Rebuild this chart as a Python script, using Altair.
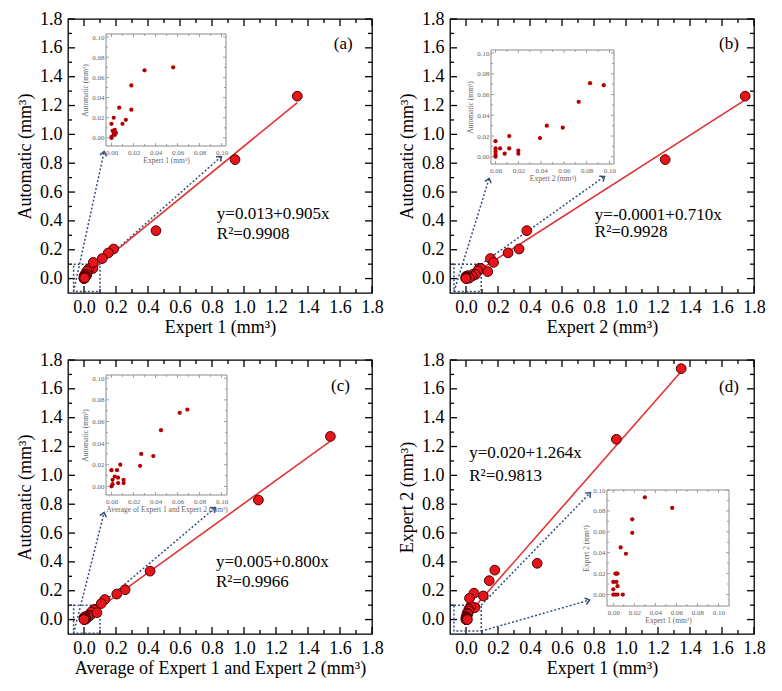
import math
import altair as alt
import pandas as pd

SERIF = "Liberation Serif"
W, H = 304, 274
DOM = [-0.1, 1.8]
RED = "#e8141c"
DARK = "#4a0000"
LINE = "#e03434"
BLUE = "#34507a"
INDOT = "#b40000"
GRAY = "#666666"

major_ticks = [0.0, 0.2, 0.4, 0.6, 0.8, 1.0, 1.2, 1.4, 1.6, 1.8]
minor_ticks = [0.1, 0.3, 0.5, 0.7, 0.9, 1.1, 1.3, 1.5, 1.7]
inset_major = [0.0, 0.02, 0.04, 0.06, 0.08, 0.10]
inset_minor = [0.01, 0.03, 0.05, 0.07, 0.09]

# ---------------- panel (a): Expert 1 vs Automatic ----------------
a_main_x = [1.333, 0.944, 0.450, 0.185, 0.152, 0.114, 0.058]
a_main_y = [1.265, 0.825, 0.332, 0.205, 0.178, 0.139, 0.112]
a_in_x = [0.056, 0.030, 0.018, 0.007, 0.018, 0.013, 0.010, 0.002, 0.000, 0.003, 0.001, 0.002, 0.003, 0.000, 0.000, 0.004]
a_in_y = [0.070, 0.067, 0.052, 0.030, 0.028, 0.018, 0.014, 0.020, 0.014, 0.008, 0.007, 0.004, 0.003, 0.001, 0.000, 0.005]
a_fit = [0.013, 0.905]
a_fit_x = [0.0, 1.333]

# ---------------- panel (b): Expert 2 vs Automatic ----------------
b_main_x = [1.745, 1.245, 0.380, 0.332, 0.263, 0.153, 0.172, 0.136]
b_main_y = [1.265, 0.825, 0.332, 0.205, 0.178, 0.139, 0.112, 0.048]
b_in_x = [0.083, 0.095, 0.073, 0.045, 0.059, 0.039, 0.012, 0.000, 0.000, 0.004, 0.012, 0.008, 0.020, 0.020, 0.000, 0.000, 0.000]
b_in_y = [0.071, 0.069, 0.053, 0.030, 0.028, 0.018, 0.020, 0.015, 0.008, 0.008, 0.008, 0.003, 0.006, 0.003, 0.005, 0.002, 0.000]
b_fit = [-0.0001, 0.710]
b_fit_x = [0.0, 1.745]

# ---------------- panel (c): Average vs Automatic ----------------
c_main_x = [1.540, 1.090, 0.413, 0.257, 0.205, 0.130, 0.108, 0.081]
c_main_y = [1.270, 0.829, 0.336, 0.207, 0.177, 0.139, 0.111, 0.048]
c_in_x = [0.069, 0.062, 0.045, 0.027, 0.038, 0.026, 0.008, 0.000, 0.005, 0.001, 0.003, 0.006, 0.011, 0.011, 0.006, 0.001, 0.000]
c_in_y = [0.071, 0.068, 0.052, 0.030, 0.028, 0.019, 0.020, 0.015, 0.015, 0.006, 0.009, 0.008, 0.006, 0.003, 0.003, 0.002, 0.000]
c_fit = [0.005, 0.800]
c_fit_x = [0.0, 1.540]

# ---------------- panel (d): Expert 1 vs Expert 2 ----------------
d_main_x = [1.345, 0.940, 0.445, 0.180, 0.145, 0.108, 0.050, 0.022]
d_main_y = [1.740, 1.250, 0.390, 0.343, 0.270, 0.164, 0.183, 0.148]
d_in_x = [0.056, 0.030, 0.018, 0.018, 0.007, 0.012, 0.002, 0.003, 0.004, 0.000, 0.003, 0.004, 0.000, 0.000, 0.002, 0.004, 0.009]
d_in_y = [0.083, 0.093, 0.072, 0.059, 0.045, 0.039, 0.020, 0.020, 0.020, 0.012, 0.012, 0.008, 0.005, 0.000, 0.000, 0.000, 0.000]
d_fit = [0.020, 1.264]
d_fit_x = [0.0, 1.345]

T3 = " (mm\u00b3)"

PANELS = [
    dict(mx=a_main_x, my=a_main_y, ix=a_in_x, iy=a_in_y, fit=a_fit, fx=a_fit_x,
         xt="Expert 1" + T3, yt="Automatic" + T3, ixt="Expert 1" + T3, iyt="Automatic" + T3,
         eq=["y=0.013+0.905x", "R\u00b2=0.9908"], eqx=0.83, eqy=[0.445, 0.31],
         letter="(a)", lx=1.62, ly=1.63,
         box=[-0.065, 0.1, -0.09, 0.1],
         arrows=[(-0.065, -0.09, 0.126, 0.881), (0.1, 0.1, 0.859, 0.847)],
         ipx=[38, 158, 15, 127], idx=[-0.005, 0.104], idy=[-0.008, 0.103]),
    dict(mx=b_main_x, my=b_main_y, ix=b_in_x, iy=b_in_y, fit=b_fit, fx=b_fit_x,
         xt="Expert 2" + T3, yt="Automatic" + T3, ixt="Expert 2" + T3, iyt="Automatic" + T3,
         eq=["y=-0.0001+0.710x", "R\u00b2=0.9928"], eqx=0.805, eqy=[0.44, 0.32],
         letter="(b)", lx=1.643, ly=1.63,
         box=[-0.075, 0.095, -0.09, 0.1],
         arrows=[(-0.075, -0.09, 0.145, 0.695), (0.095, 0.1, 0.866, 0.708)],
         ipx=[41, 164, 31, 145], idx=[-0.004, 0.104], idy=[-0.007, 0.103]),
    dict(mx=c_main_x, my=c_main_y, ix=c_in_x, iy=c_in_y, fit=c_fit, fx=c_fit_x,
         xt="Average of Expert 1 and Expert 2" + T3, yt="Automatic" + T3,
         ixt="Average of Expert 1 and Expert 2" + T3, iyt="Automatic" + T3,
         eq=["y=0.005+0.800x", "R\u00b2=0.9966"], eqx=0.825, eqy=[0.40, 0.26],
         letter="(c)", lx=1.603, ly=1.62,
         box=[-0.065, 0.1, -0.095, 0.1],
         arrows=[(-0.065, -0.095, 0.126, 0.743), (0.1, 0.1, 0.822, 0.777)],
         ipx=[38, 159, 15, 135], idx=[-0.005, 0.105], idy=[-0.008, 0.103]),
    dict(mx=d_main_x, my=d_main_y, ix=d_in_x, iy=d_in_y, fit=d_fit, fx=d_fit_x,
         xt="Expert 1" + T3, yt="Expert 2" + T3, ixt="Expert 1" + T3, iyt="Expert 2" + T3,
         eq=["y=0.020+1.264x", "R\u00b2=0.9813"], eqx=0.02, eqy=[1.153, 0.993],
         letter="(d)", lx=1.643, ly=1.61,
         box=[-0.075, 0.095, -0.08, 0.1],
         arrows=[(0.095, 0.1, 0.778, 0.881), (0.095, -0.08, 0.772, 0.135)],
         ipx=[157, 279, 130, 246], idx=[-0.006, 0.110], idy=[-0.011, 0.100]),
]


def rules(vals, sx, sy, x0, x1, y0, y1, length, color, width):
    df = pd.DataFrame({"v": vals})
    b = alt.Chart(df).mark_rule(color=color, strokeWidth=width)
    X = alt.X("v:Q", scale=sx, axis=None)
    Y = alt.Y("v:Q", scale=sy, axis=None)
    return [
        b.encode(x=X, y=alt.value(y1), y2=alt.value(y1 - length)),
        b.encode(x=X, y=alt.value(y0), y2=alt.value(y0 + length)),
        b.encode(y=Y, x=alt.value(x0), x2=alt.value(x0 + length)),
        b.encode(y=Y, x=alt.value(x1), x2=alt.value(x1 - length)),
    ]


def make_panel(p):
    sx = alt.Scale(domain=DOM, nice=False, zero=False)
    sy = alt.Scale(domain=DOM, nice=False, zero=False)
    span = DOM[1] - DOM[0]

    xaxis = alt.Axis(orient="bottom", values=major_ticks, format=".1f", ticks=False, domain=False,
                     grid=False, labelFlush=False, labelFont=SERIF, labelFontSize=18,
                     labelColor="black", labelPadding=5, title=p["xt"], titleFont=SERIF,
                     titleFontSize=18, titleFontWeight="normal", titleColor="black", titlePadding=2)
    yaxis = alt.Axis(orient="left", values=major_ticks, format=".1f", ticks=False, domain=False,
                     grid=False, labelFlush=False, labelFont=SERIF, labelFontSize=18,
                     labelColor="black", labelPadding=6, title=p["yt"], titleFont=SERIF,
                     titleFontSize=18, titleFontWeight="normal", titleColor="black", titlePadding=5)

    bx = p["box"]
    box = alt.Chart(pd.DataFrame({"x": [bx[0]], "x2": [bx[1]], "y": [bx[2]], "y2": [bx[3]]})).mark_rect(
        fill="white", fillOpacity=0, stroke=BLUE, strokeDash=[2, 2], strokeWidth=1.5
    ).encode(x=alt.X("x:Q", scale=sx, axis=None), x2="x2",
             y=alt.Y("y:Q", scale=sy, axis=None), y2="y2")

    rows = []
    for (x1, y1, x2, y2) in p["arrows"]:
        dxp = (x2 - x1) / span * W
        dyp = -(y2 - y1) / span * H
        ang = math.degrees(math.atan2(dyp, dxp)) % 360
        rows.append({"x": x1, "y": y1, "x2": x2, "y2": y2, "ang": ang})
    adf = pd.DataFrame(rows)
    arrow_lines = alt.Chart(adf).mark_rule(color=BLUE, strokeDash=[2, 2], strokeWidth=1.5).encode(
        x=alt.X("x:Q", scale=sx, axis=None), y=alt.Y("y:Q", scale=sy, axis=None), x2="x2", y2="y2")
    heads = alt.Chart(adf).mark_point(shape="M-1,-0.8L0,0L-1,0.8", filled=False, stroke=BLUE,
                                      strokeWidth=1.5, size=70, opacity=1).encode(
        x=alt.X("x2:Q", scale=sx, axis=None), y=alt.Y("y2:Q", scale=sy, axis=None),
        angle=alt.Angle("ang:Q", scale=None))

    ldf = pd.DataFrame({"x": p["fx"], "y": [p["fit"][0] + p["fit"][1] * v for v in p["fx"]]})
    line = alt.Chart(ldf).mark_line(color=LINE, strokeWidth=1.6).encode(
        x=alt.X("x:Q", scale=sx, axis=None), y=alt.Y("y:Q", scale=sy, axis=None))

    pdf = pd.DataFrame({"x": p["ix"] + p["mx"], "y": p["iy"] + p["my"]})
    pts = alt.Chart(pdf).mark_point(shape="circle", filled=True, fill=RED, stroke=DARK,
                                    strokeWidth=1, size=95, opacity=1).encode(
        x=alt.X("x:Q", scale=sx, axis=xaxis), y=alt.Y("y:Q", scale=sy, axis=yaxis))

    tdf = pd.DataFrame({"x": [p["eqx"], p["eqx"]], "y": p["eqy"], "t": p["eq"]})
    eq = alt.Chart(tdf).mark_text(align="left", baseline="middle", font=SERIF, fontSize=17,
                                  color="black").encode(
        x=alt.X("x:Q", scale=sx, axis=None), y=alt.Y("y:Q", scale=sy, axis=None), text="t:N")
    ldf2 = pd.DataFrame({"x": [p["lx"]], "y": [p["ly"]], "t": [p["letter"]]})
    let = alt.Chart(ldf2).mark_text(align="center", baseline="middle", font=SERIF, fontSize=17,
                                    color="black").encode(
        x=alt.X("x:Q", scale=sx, axis=None), y=alt.Y("y:Q", scale=sy, axis=None), text="t:N")

    main_ticks = rules(major_ticks, sx, sy, 0, W, 0, H, 7, "black", 1.3) + \
        rules(minor_ticks, sx, sy, 0, W, 0, H, 4, "black", 1.3)

    # inset
    x0, x1, y0, y1 = p["ipx"]
    isx = alt.Scale(domain=p["idx"], range=[x0, x1], nice=False, zero=False)
    isy = alt.Scale(domain=p["idy"], range=[y1, y0], nice=False, zero=False)
    frame = alt.Chart(pd.DataFrame({"x": [p["idx"][0]], "x2": [p["idx"][1]],
                                    "y": [p["idy"][0]], "y2": [p["idy"][1]]})).mark_rect(
        fill="white", stroke="#8a8a8a", strokeWidth=1).encode(
        x=alt.X("x:Q", scale=isx, axis=None), x2="x2",
        y=alt.Y("y:Q", scale=isy, axis=None), y2="y2")
    ixaxis = alt.Axis(orient="bottom", offset=-(H - y1), values=inset_major, format=".2f",
                      ticks=False, domain=False, grid=False, labelFlush=False, labelFont=SERIF,
                      labelFontSize=7, labelColor=GRAY, labelPadding=2, title=p["ixt"],
                      titleFont=SERIF, titleFontSize=7.5, titleFontWeight="normal",
                      titleColor=GRAY, titlePadding=1, zindex=1)
    iyaxis = alt.Axis(orient="left", offset=-x0, values=inset_major, format=".2f",
                      ticks=False, domain=False, grid=False, labelFlush=False, labelFont=SERIF,
                      labelFontSize=7, labelColor=GRAY, labelPadding=2, title=p["iyt"],
                      titleFont=SERIF, titleFontSize=7.5, titleFontWeight="normal",
                      titleColor=GRAY, titlePadding=2, zindex=1)
    idf = pd.DataFrame({"x": p["ix"], "y": p["iy"]})
    idots = alt.Chart(idf).mark_circle(color=INDOT, size=18, opacity=1).encode(
        x=alt.X("x:Q", scale=isx, axis=ixaxis), y=alt.Y("y:Q", scale=isy, axis=iyaxis))
    iticks = rules(inset_major, isx, isy, x0, x1, y0, y1, 3, "#8a8a8a", 0.8) + \
        rules(inset_minor, isx, isy, x0, x1, y0, y1, 2, "#8a8a8a", 0.8)

    layers = main_ticks + [box, arrow_lines, heads, line, pts, eq, let, frame] + iticks + [idots]
    return alt.layer(*layers).resolve_scale(x="independent", y="independent").properties(
        width=W, height=H)


pa, pb, pc, pd_ = [make_panel(p) for p in PANELS]
row1 = alt.hconcat(pa, pb, spacing=13)
row2 = alt.hconcat(pc, pd_, spacing=13)
chart = alt.vconcat(row1, row2, spacing=13).properties(
    padding={"left": 7, "top": 1, "right": 0, "bottom": 0}
).configure_view(stroke="black", strokeWidth=1.3)

chart.save("out.html", embed_options={"renderer": "svg", "actions": False})
